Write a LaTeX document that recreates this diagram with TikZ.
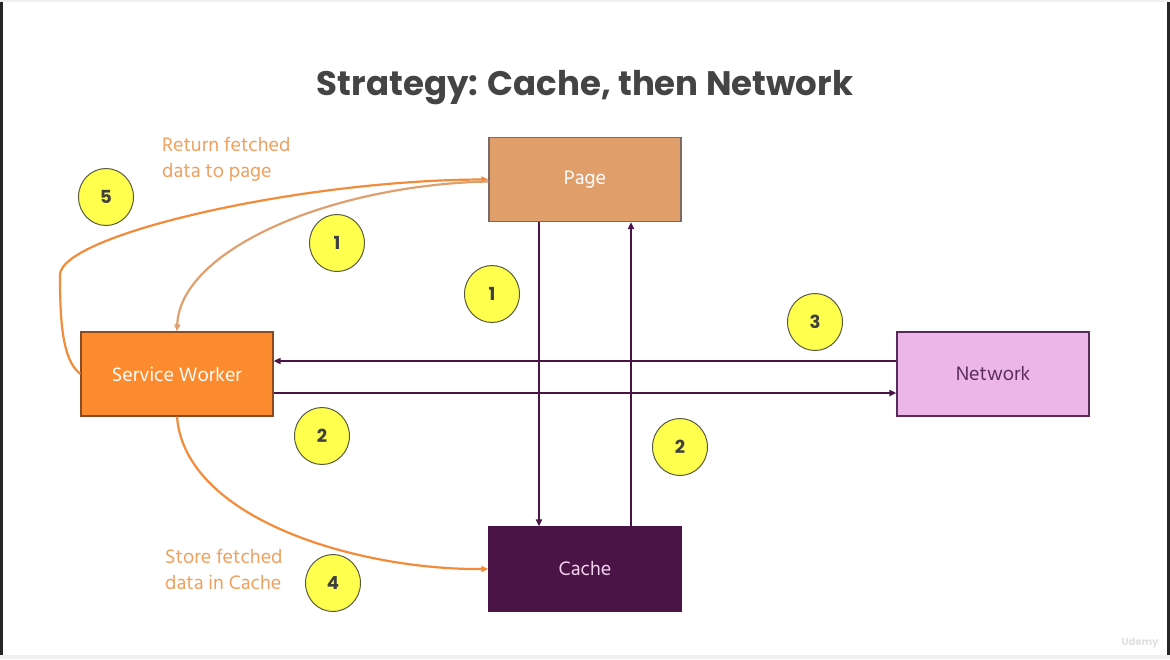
\documentclass[tikz,border=0pt]{standalone}
\usepackage{fontspec}
\setmainfont{Poppins}
\newfontfamily\bodyfont{Hind Madurai}
\usetikzlibrary{arrows.meta,shapes.geometric}
\definecolor{pagefill}{HTML}{DF9E6A}
\definecolor{pageborder}{HTML}{7A6A62}
\definecolor{swfill}{HTML}{FC8A2E}
\definecolor{swborder}{HTML}{8A4A22}
\definecolor{netfill}{HTML}{EDB6E8}
\definecolor{netborder}{HTML}{5A2A5A}
\definecolor{nettext}{HTML}{5A2D5A}
\definecolor{cachefill}{HTML}{4A1446}
\definecolor{plum}{HTML}{4A1446}
\definecolor{orangeline}{HTML}{F28C3A}
\definecolor{tanline}{HTML}{DFA070}
\definecolor{labeltext}{HTML}{EFA05E}
\definecolor{numfill}{HTML}{FFFF4D}
\definecolor{numborder}{HTML}{5A5A40}
\definecolor{titlegray}{HTML}{444444}
\begin{document}
\begin{tikzpicture}[x=1pt,y=-1pt,
  box/.style={rectangle, minimum width=192pt, minimum height=84pt, line width=1.2pt, font=\bodyfont\fontsize{20}{24}\selectfont, inner sep=0pt},
  numcircle/.style={ellipse, draw=numborder, fill=numfill, line width=1pt, minimum width=55pt, minimum height=57pt, inner sep=0pt, font=\bfseries\fontsize{18}{20}\selectfont, text=black!75},
  plumarrow/.style={draw=plum, line width=2pt, -{Triangle[length=7pt,width=6pt]}},
  orangearrow/.style={draw=orangeline, line width=2.2pt, -{Triangle[length=7pt,width=6pt]}},
  tanarrow/.style={draw=tanline, line width=2.2pt, -{Triangle[length=7pt,width=6pt]}},
  label/.style={align=left, anchor=north west, inner sep=0pt, text=labeltext, font=\bodyfont\fontsize{20}{26}\selectfont}
]
\useasboundingbox (0,0) rectangle (1170,659);
\fill[white] (0,0) rectangle (1170,659);
\fill[black!85] (0,0) rectangle (2.5,659);
\fill[black!85] (1167,0) rectangle (1170,659);
\fill[black!6] (0,0) rectangle (1170,1.5);
\fill[black!6] (0,655) rectangle (1170,659);

\node[font=\bfseries\fontsize{34}{38}\selectfont, text=titlegray] (title) at (585,88) {Strategy: Cache, then Network};

\node[box, fill=pagefill, draw=pageborder, text=white] (page) at (585,179.5) {Page};
\node[box, fill=swfill, draw=swborder, text=white] (sw) at (177,374) {Service Worker};
\node[box, fill=netfill, draw=netborder, text=nettext] (net) at (993,374) {Network};
\node[box, fill=cachefill, draw=cachefill, text=netfill!60!white] (cache) at (585,569) {Cache};

% vertical lines page <-> cache
\draw[plumarrow] ([xshift=-46pt]page.south) -- ([xshift=-46pt]cache.north);
\draw[plumarrow] ([xshift=46pt]cache.north) -- ([xshift=46pt]page.south);
% horizontal lines sw <-> network
\draw[plumarrow] ([yshift=13pt]net.west) -- ([yshift=13pt]sw.east);
\draw[plumarrow] ([yshift=-19pt]sw.east) -- ([yshift=-19pt]net.west);

% curves
\coordinate (bend5) at (60,275);
\draw[orangearrow] (sw.west) .. controls (62,360) and (60,320) .. (bend5) .. controls (60,235) and (300,180) .. (page.west);
\draw[tanarrow] ([yshift=-2pt]page.west) .. controls (330,185) and (180,250) .. (sw.north);
\draw[orangearrow] (sw.south) .. controls (185,520) and (360,570) .. (cache.west);

% labels
\node[label] (lret) at (162,137) {Return fetched\\data to page};
\node[label] (lstore) at (165,549) {Store fetched\\data in Cache};

% number circles
\node[numcircle] (n5) at (106,197) {5};
\node[numcircle] (n1a) at (337,243) {1};
\node[numcircle] (n1b) at (492,294) {1};
\node[numcircle] (n3) at (815,322) {3};
\node[numcircle] (n2a) at (322,436) {2};
\node[numcircle] (n2b) at (680,447) {2};
\node[numcircle] (n4) at (333,583) {4};

\node[text=black!12, font=\bfseries\fontsize{10}{12}\selectfont] (wm) at (1140,643) {Udemy};
\end{tikzpicture}
\end{document}
